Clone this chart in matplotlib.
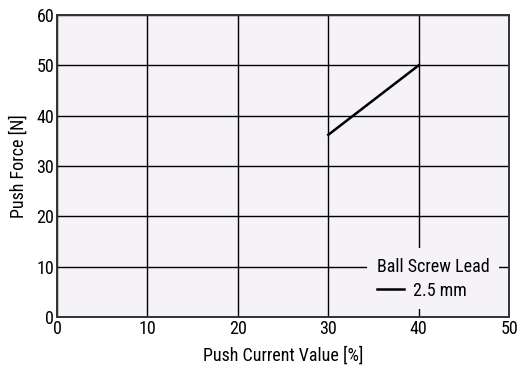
import matplotlib
matplotlib.use('Agg')
import matplotlib.pyplot as plt

plt.rcParams['font.family'] = ['Roboto Condensed', 'Liberation Sans Narrow', 'Roboto', 'DejaVu Sans']

# 数据
current = [30, 40]
force_25 = [36.2, 50]
x_ticks = [0, 10, 20, 30, 40, 50]
y_ticks = [0, 10, 20, 30, 40, 50, 60]

fig = plt.figure(figsize=(5.19, 3.65), dpi=100)
ax = fig.add_axes([0.110, 0.1315, 0.871, 0.8275])
ax.set_facecolor('#f5f2f8')

ax.plot(current, force_25, color='black', lw=1.8, label='2.5 mm', zorder=3)

ax.set_xlim(0, 50)
ax.set_ylim(0, 60)
ax.set_xticks(x_ticks)
ax.set_yticks(y_ticks)
ax.tick_params(length=0, labelsize=13, pad=2)
ax.grid(True, color='black', lw=1.0)
ax.set_axisbelow(True)
for s in ax.spines.values():
    s.set_color('#333333')
    s.set_linewidth(1.4)

ax.set_xlabel('Push Current Value [%]', fontsize=13, labelpad=6)
ax.set_ylabel('Push Force [N]', fontsize=13, labelpad=6)

leg = ax.legend(title='Ball Screw Lead', loc='lower right', bbox_to_anchor=(0.978, 0.025),
                frameon=True, fontsize=13, title_fontsize=13, handlelength=1.5,
                handletextpad=0.5, borderpad=0.55, borderaxespad=0, labelspacing=0.3)
leg._legend_box.align = 'left'
leg._legend_box.sep = 4
leg.get_frame().set_facecolor('#f5f2f8')
leg.get_frame().set_edgecolor('none')
leg.get_frame().set_alpha(1)
leg.get_frame().set_boxstyle('square', pad=0)
leg.set_zorder(5)

fig.savefig('out.png', dpi=100)
